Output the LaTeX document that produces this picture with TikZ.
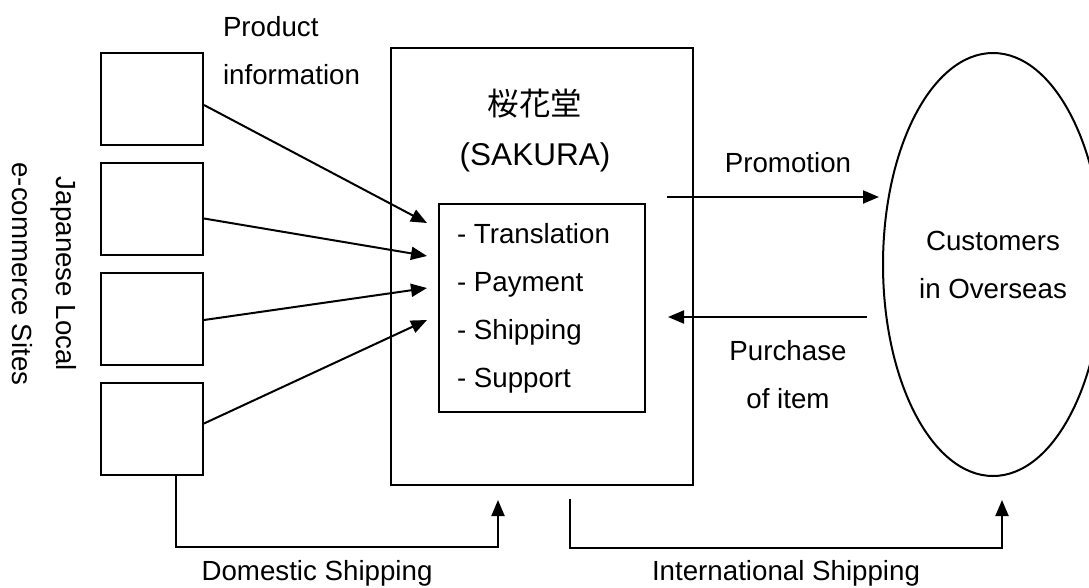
\documentclass[tikz,border=0pt]{standalone}
\usepackage{fontspec}
\setmainfont{Liberation Sans}
\newfontfamily\cjk{Noto Sans CJK JP}
\usetikzlibrary{positioning,arrows.meta,shapes.geometric}
\tikzstyle{site} = [draw, rectangle, minimum width=102pt, minimum height=92pt]
\tikzstyle{frame} = [draw, rectangle, inner sep=0pt]
\tikzstyle{txt} = [align=center, inner sep=0pt]
\tikzstyle{market} = [draw, ellipse, align=center, inner sep=0pt]
\begin{document}
\begin{tikzpicture}[x=1pt, y=-1pt, line width=2pt, >={Triangle[length=16pt,width=13pt]},
    font=\fontsize{27.7}{48}\selectfont]
	  \clip (0,0) rectangle (1089,587);
	  % shop sites
	  \node [site] (site1) at (152,99) {};
	  \node [site, below=16pt of site1] (site2) {};
	  \node [site, below=16pt of site2] (site3) {};
	  \node [site, below=16pt of site3] (site4) {};
	  \node [txt, rotate=-90, font=\fontsize{27.7}{44}\selectfont] (sites) at (44,274) {Japanese Local\\e-commerce Sites};
	  \node [txt, align=left, anchor=west] (prodinfo) at (222,51) {Product\\information};
	  % agent
	  \node [frame, minimum width=302pt, minimum height=437pt] (sakura) at (542,266.5) {};
	  \node [txt, font=\fontsize{31.5}{50}\selectfont] (title) at (535,131) {{\cjk 桜花堂}\\(SAKURA)};
	  \node [frame, minimum width=206pt, minimum height=208pt] (services) at (542,308) {};
	  \node [txt, align=left, anchor=west] (tasks) at ([xshift=18pt]services.west)
	    {- Translation\\- Payment\\- Shipping\\- Support};
	  % buyers
	  \node [market, minimum width=220pt, minimum height=423pt] (customers) at (993,264.5) {Customers\\in Overseas};
	  \node [txt] (promo) at (788,163) {Promotion};
	  \node [txt] (purchase) at (788,375) {Purchase\\of item};
	  \node [txt] (domestic) at (317,573) {Domestic Shipping};
	  \node [txt] (intl) at (786,573) {International Shipping};
	  % free ends
	  \coordinate (tip1) at (427,223);
	  \coordinate (tip2) at (427,256);
	  \coordinate (tip3) at (427,288);
	  \coordinate (tip4) at (427,320);
	  \coordinate (promoStart) at (667,197);
	  \coordinate (promoEnd) at (879,197);
	  \coordinate (buyStart) at (867,317);
	  \coordinate (buyEnd) at (668,317);
	  \coordinate (domTip) at (498,500);
	  \coordinate (intlStart) at (570,499);
	  \coordinate (intlTip) at (1002,500);
	  \draw [->] ([yshift=-6pt]site1.east) -- (tip1);
	  \draw [->] ([yshift=-9.5pt]site2.east) -- (tip2);
	  \draw [->] ([yshift=-1pt]site3.east) -- (tip3);
	  \draw [->] ([yshift=5.5pt]site4.east) -- (tip4);
	  \draw [->] (promoStart) -- (promoEnd);
	  \draw [->] (buyStart) -- (buyEnd);
	  \draw [->] ([xshift=24pt]site4.south) -- ++(0,71) -| (domTip);
	  \draw [->] (intlStart) -- ++(0,49) -| (intlTip);
	\end{tikzpicture}
\end{document}
